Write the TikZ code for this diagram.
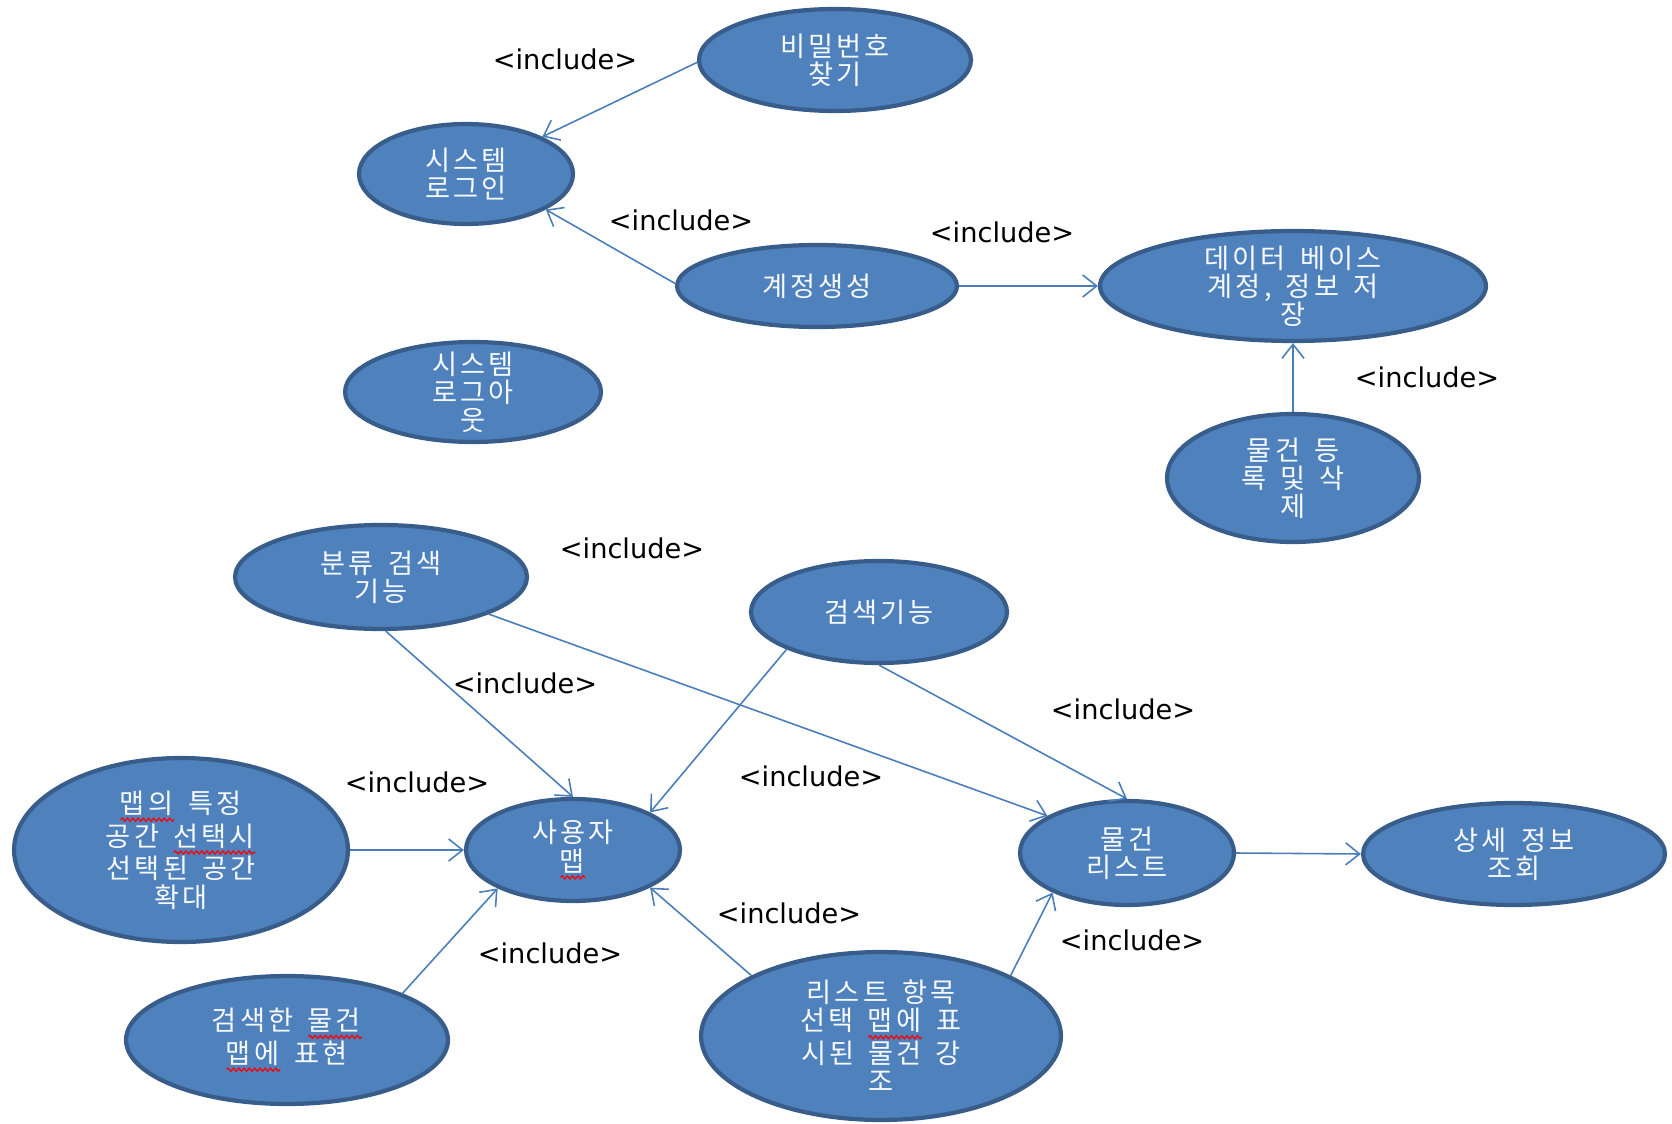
\documentclass[tikz,border=0pt]{standalone}
\usepackage{fontspec}
\usetikzlibrary{shapes.geometric,arrows.meta,decorations.pathmorphing}
\newfontfamily\krfont[LetterSpace=12,WordSpace=1.5]{Noto Sans CJK KR}
\newfontfamily\tagfont{DejaVu Sans}
\definecolor{ucfill}{HTML}{4F81BD}
\definecolor{ucline}{HTML}{385D8A}
\definecolor{inclink}{HTML}{4A7EBB}
% red spell-check wave under a word
\newcommand\redwave[1]{\setbox0\hbox{#1}\rlap{\copy0}\tikz[baseline=0pt]{%
  \path (0pt,0pt) (\wd0,0pt);
  \draw[red, line width=0.7pt, decorate, decoration={snake, amplitude=0.9pt, segment length=3pt}] (0pt,-3.6pt) -- (\wd0,-3.6pt);}}

\tikzset{
  usecase/.style={ellipse, draw=ucline, line width=2.4pt, fill=ucfill, text=white!95!ucfill,
    align=center, inner xsep=0pt, inner ysep=-7pt, font=\krfont\fontsize{15.5}{16}\selectfont},
  incl/.style={draw=inclink, line width=0.9pt, -{Straight Barb[length=2.8mm,width=4.4mm]}},
  incltag/.style={font=\tagfont\fontsize{15.5}{18}\selectfont, inner sep=0pt},
}

\begin{document}
\begin{tikzpicture}[x=0.02cm, y=-0.02cm]
    \useasboundingbox (0,0) rectangle (1672,1124);

    % use cases
    \node[usecase, minimum width=5.44cm, minimum height=2.04cm] (pwfind) at (835,60) {비밀번호\\찾기};
    \node[usecase, minimum width=4.28cm, minimum height=2.0cm] (login) at (466,174) {시스템\\로그인};
    \node[usecase, minimum width=5.6cm, minimum height=1.64cm] (account) at (817,286) {계정생성};
    \node[usecase, minimum width=7.72cm, minimum height=2.2cm] (dbsave) at (1293,286) {데이터 베이스\\계정, 정보 저\\장};
    \node[usecase, minimum width=5.12cm, minimum height=2.0cm] (logout) at (473,392) {시스템\\로그아\\웃};
    \node[usecase, minimum width=5.04cm, minimum height=2.56cm] (itemreg) at (1293,478) {물건 등\\록 및 삭\\제};
    \node[usecase, minimum width=5.84cm, minimum height=2.08cm] (catsearch) at (381,577) {분류 검색\\기능};
    \node[usecase, minimum width=5.12cm, minimum height=2.04cm] (search) at (879,612) {검색기능};
    \node[usecase, minimum width=6.68cm, minimum height=3.68cm] (mapzoom) at (181,850) {\redwave{맵의} 특정\\공간 \redwave{선택시}\\선택된 공간\\확대};
    \node[usecase, minimum width=4.28cm, minimum height=2.04cm] (usermap) at (573,850) {사용자\\\redwave{맵}};
    \node[usecase, minimum width=4.28cm, minimum height=2.08cm] (itemlist) at (1127,853) {물건\\리스트};
    \node[usecase, minimum width=6.04cm, minimum height=2.04cm] (detail) at (1514,854) {상세 정보\\조회};
    \node[usecase, minimum width=6.44cm, minimum height=2.56cm] (mapshow) at (287,1040) {검색한 \redwave{물건}\\\redwave{맵에} 표현};
    \node[usecase, minimum width=7.2cm, minimum height=3.36cm] (listpick) at (881,1036) {리스트 항목\\선택 \redwave{맵에} 표\\시된 물건 강\\조};

    % include links
    \draw[incl] (pwfind.181) -- (login.26);
    \draw[incl] (account.179) -- (login.-24);
    \draw[incl] (account.east) -- (dbsave.west);
    \draw[incl] (itemreg.north) -- (dbsave.south);
    \draw[incl] (catsearch.-85) -- (usermap.north);
    \draw[incl] (catsearch.-19) -- (itemlist.155);
    \draw[incl] (search.202) -- (usermap.26);
    \draw[incl] (search.south) -- (itemlist.north);
    \draw[incl] (mapzoom.east) -- (usermap.west);
    \draw[incl] (mapshow.22) -- (usermap.207);
    \draw[incl] (listpick.155) -- (usermap.-26);
    \draw[incl] (listpick.25) -- (itemlist.208);
    \draw[incl] (itemlist.east) -- (detail.west);

    % tags
    \node[incltag] (tag1) at (565,59) {<include>};
    \node[incltag] (tag2) at (681,220) {<include>};
    \node[incltag] (tag3) at (1002,232) {<include>};
    \node[incltag] (tag4) at (1427,377) {<include>};
    \node[incltag] (tag5) at (632,548) {<include>};
    \node[incltag] (tag6) at (525,683) {<include>};
    \node[incltag] (tag7) at (1123,709) {<include>};
    \node[incltag] (tag8) at (417,782) {<include>};
    \node[incltag] (tag9) at (811,776) {<include>};
    \node[incltag] (tag10) at (789,913) {<include>};
    \node[incltag] (tag11) at (550,953) {<include>};
    \node[incltag] (tag12) at (1132,940) {<include>};
\end{tikzpicture}
\end{document}
